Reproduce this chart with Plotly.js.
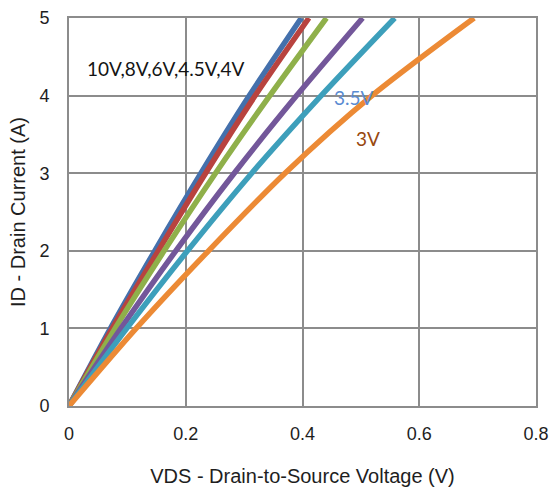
<!DOCTYPE html>
<html>
<head>
<meta charset="utf-8">
<script src="https://cdn.plot.ly/plotly-3.0.1.min.js"></script>
<style>html,body{margin:0;padding:0;background:#fff;}#chart{width:552px;height:487px;}</style>
</head>
<body>
<div id="chart"></div>
<script>
// Drain current (A)
const current = [0, 1, 2, 3, 4, 5];
// Drain-to-source voltage (V) for each gate voltage curve
const vds10V  = [0, 0.071, 0.147, 0.226, 0.309, 0.398];
const vds8V   = [0, 0.074, 0.153, 0.234, 0.319, 0.411];
const vds6V   = [0, 0.079, 0.163, 0.251, 0.344, 0.441];
const vds4p5V = [0, 0.089, 0.183, 0.283, 0.390, 0.503];
const vds4V   = [0, 0.099, 0.203, 0.313, 0.432, 0.558];
const vds3V   = [0, 0.115, 0.239, 0.370, 0.519, 0.694];
const seriesNames = ['10V', '8V', '6V', '4.5V', '4V', '3V'];
const seriesColors = ['#4470AC', '#B8433F', '#8FB04A', '#73579A', '#3D9FBB', '#EC8A35'];
const seriesData = [vds10V, vds8V, vds6V, vds4p5V, vds4V, vds3V];

const xTicks = [0, 0.2, 0.4, 0.6, 0.8];
const xTickText = ['0', '0.2', '0.4', '0.6', '0.8'];
const yTicks = [0, 1, 2, 3, 4, 5];

const traces = seriesData.map((v, i) => ({
  x: v, y: current, type: 'scatter', mode: 'lines', name: seriesNames[i],
  line: {color: seriesColors[i], width: 5.5, shape: 'spline', smoothing: 0.8},
  hoverinfo: 'skip'
}));

const tickFont = {family: 'Liberation Sans, Arial, sans-serif', size: 18, color: '#1e1e1e'};
const titleFont = {family: 'Liberation Sans, Arial, sans-serif', size: 20, color: '#1e1e1e'};
const layout = {
  width: 552, height: 487,
  margin: {l: 69, r: 16, t: 17.5, b: 80.5},
  paper_bgcolor: '#fff', plot_bgcolor: '#fff',
  showlegend: false,
  xaxis: {
    range: [0, 0.8], tickvals: xTicks, ticktext: xTickText,
    showgrid: true, gridcolor: '#8c8c8c', gridwidth: 2,
    showline: true, linecolor: '#8c8c8c', linewidth: 2, mirror: true,
    zeroline: false, ticks: '', tickfont: tickFont, ticklabelstandoff: 10,
    title: {text: 'VDS - Drain-to-Source Voltage (V)', font: titleFont, standoff: 28}
  },
  yaxis: {
    range: [0, 5], tickvals: yTicks,
    showgrid: true, gridcolor: '#8c8c8c', gridwidth: 2,
    showline: true, linecolor: '#8c8c8c', linewidth: 2, mirror: true,
    zeroline: false, ticks: '', tickfont: tickFont, ticklabelstandoff: 14,
    title: {text: 'ID - Drain Current (A)', font: titleFont, standoff: 8}
  },
  annotations: [
    {x: 0.028, y: 4.35, xref: 'x', yref: 'y', text: '10V,8V,6V,4.5V,4V', showarrow: false, xanchor: 'left', yanchor: 'middle',
     font: {family: 'Lato, sans-serif', size: 19, color: '#141414'}},
    {x: 0.488, y: 3.98, xref: 'x', yref: 'y', text: '3.5V', showarrow: false, xanchor: 'center', yanchor: 'middle',
     font: {family: 'Lato, sans-serif', size: 19, color: '#5A8BD2'}},
    {x: 0.512, y: 3.45, xref: 'x', yref: 'y', text: '3V', showarrow: false, xanchor: 'center', yanchor: 'middle',
     font: {family: 'Lato, sans-serif', size: 19, color: '#98480F'}}
  ]
};
Plotly.newPlot('chart', traces, layout, {displayModeBar: false, staticPlot: true});
</script>
</body>
</html>
